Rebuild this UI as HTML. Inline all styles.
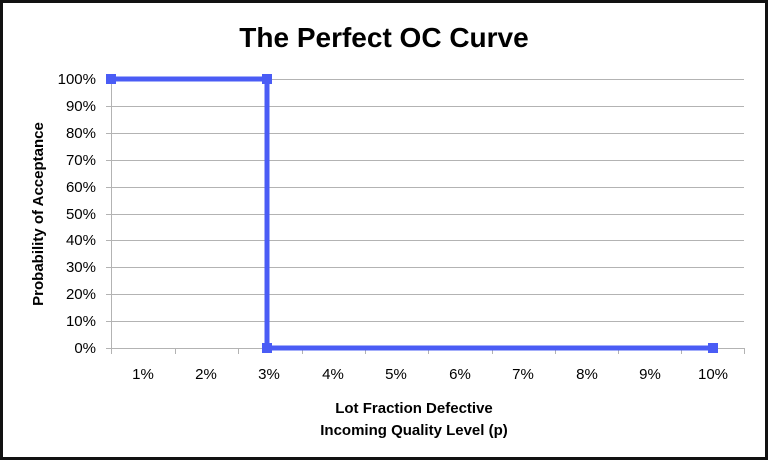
<!DOCTYPE html>
<html><head><style>
body{margin:0;background:#fff}
svg text{font-family:"Liberation Sans",sans-serif;fill:#000}
</style></head><body>
<svg width="768" height="460" xmlns="http://www.w3.org/2000/svg">
<rect x="1.5" y="1.5" width="765" height="457" fill="#fff" stroke="#111" stroke-width="3"/>
<text x="384" y="47" font-size="28" font-weight="bold" text-anchor="middle">The Perfect OC Curve</text>
<g stroke="#b3b3b3" stroke-width="1">
<line x1="106" y1="79.5" x2="744" y2="79.5"/>
<line x1="106" y1="106.5" x2="744" y2="106.5"/>
<line x1="106" y1="133.5" x2="744" y2="133.5"/>
<line x1="106" y1="160.5" x2="744" y2="160.5"/>
<line x1="106" y1="187.5" x2="744" y2="187.5"/>
<line x1="106" y1="214.5" x2="744" y2="214.5"/>
<line x1="106" y1="240.5" x2="744" y2="240.5"/>
<line x1="106" y1="267.5" x2="744" y2="267.5"/>
<line x1="106" y1="294.5" x2="744" y2="294.5"/>
<line x1="106" y1="321.5" x2="744" y2="321.5"/>
<line x1="106" y1="348.5" x2="744" y2="348.5"/>
<line x1="111.5" y1="79" x2="111.5" y2="354"/>
<line x1="175.5" y1="348" x2="175.5" y2="354"/>
<line x1="238.5" y1="348" x2="238.5" y2="354"/>
<line x1="302.5" y1="348" x2="302.5" y2="354"/>
<line x1="365.5" y1="348" x2="365.5" y2="354"/>
<line x1="428.5" y1="348" x2="428.5" y2="354"/>
<line x1="492.5" y1="348" x2="492.5" y2="354"/>
<line x1="555.5" y1="348" x2="555.5" y2="354"/>
<line x1="618.5" y1="348" x2="618.5" y2="354"/>
<line x1="681.5" y1="348" x2="681.5" y2="354"/>
<line x1="744.5" y1="348" x2="744.5" y2="354"/>
</g>
<g font-size="15" text-anchor="end">
<text x="96" y="84">100%</text><text x="96" y="111">90%</text><text x="96" y="138">80%</text>
<text x="96" y="165">70%</text><text x="96" y="192">60%</text><text x="96" y="219">50%</text>
<text x="96" y="245">40%</text><text x="96" y="272">30%</text><text x="96" y="299">20%</text>
<text x="96" y="326">10%</text><text x="96" y="353">0%</text>
</g>
<g font-size="15" text-anchor="middle">
<text x="143" y="379">1%</text><text x="206" y="379">2%</text><text x="269" y="379">3%</text>
<text x="333" y="379">4%</text><text x="396" y="379">5%</text><text x="460" y="379">6%</text>
<text x="523" y="379">7%</text><text x="587" y="379">8%</text><text x="650" y="379">9%</text>
<text x="713" y="379">10%</text>
</g>
<polyline points="111,79 267,79 267,348 713,348" fill="none" stroke="#4a5cf5" stroke-width="5"/>
<g fill="#4a5cf5">
<rect x="106" y="74" width="10" height="10"/><rect x="262" y="74" width="10" height="10"/>
<rect x="262" y="343" width="10" height="10"/><rect x="708" y="343" width="10" height="10"/>
</g>
<text x="414" y="413" font-size="15" font-weight="bold" text-anchor="middle">Lot Fraction Defective</text>
<text x="414" y="435" font-size="15" font-weight="bold" text-anchor="middle">Incoming Quality Level (p)</text>
<text transform="translate(43,214) rotate(-90)" font-size="15" font-weight="bold" text-anchor="middle">Probability of Acceptance</text>
</svg>
</body></html>
